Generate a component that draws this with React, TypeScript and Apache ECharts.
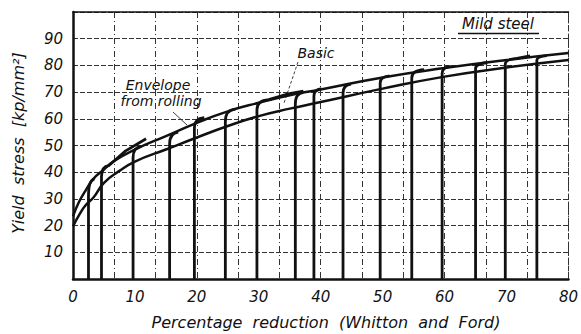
import React, { useEffect, useRef } from "react";
import * as echarts from "echarts";

// Tick labels
const xTickValues = [0, 10, 20, 30, 40, 50, 60, 70, 80];
const yTickValues = [10, 20, 30, 40, 50, 60, 70, 80, 90];

// Envelope from rolling (upper curve): [reduction %, yield stress]
const envelopeX = [0, 1, 2, 3.3, 5, 6.5, 10, 15, 20, 25, 30, 35, 40, 50, 60, 70, 80];
const envelopeY = [23.5, 29, 33, 37.5, 41, 44, 48.5, 53.5, 58.5, 62.8, 66, 68.8, 71, 75.5, 79, 82, 84.6];

// Basic curve (lower curve)
const basicX = [0, 1, 2, 3.3, 5, 7.5, 10, 15, 20, 25, 30, 35, 40, 50, 60, 70, 80];
const basicY = [19.7, 24, 27.5, 30.5, 36, 40.5, 44, 48.5, 53, 57.3, 61, 63.8, 66.3, 71.3, 75.8, 79.2, 82];

// Reloading lines after rolling: position, top of the straight part, end of knee
const reloadX = [2.5, 4.6, 9.7, 15.6, 19.6, 24.6, 29.7, 35.9, 38.9, 43.6, 49.6, 54.7, 59.6, 65, 69.8, 74.9];
const reloadTop = [31, 38.5, 45.5, 50.5, 56.5, 59, 63.4, 65.5, 68.4, 69.6, 73.4, 75.3, 77, 78.8, 80.5, 82];
const reloadJoinX = [3.5, 5.8, 11, 17, 21.2, 26.2, 31.6, 37.2, 40.1, 44.9, 51.1, 56.7, 61, 66.9, 71.7, 76.5];
const reloadJoinY = [37.5, 42.5, 49.7, 55, 60.4, 63.6, 67.2, 69.9, 71.3, 73, 76.1, 78.4, 79.6, 81, 82.6, 83.7];
// Short flow-curve tails running past the envelope (index -> points)
const tailIndex = [1, 6, 14];
const tailX = [[8.5, 11.8], [34.5, 37.2], [73.8]];
const tailY = [[48, 52.5], [69.2, 70.4], [83.6]];

const FONT = '"DejaVu Sans", "Liberation Sans", sans-serif';
const INK = "#111";

export default function App() {
  const ref = useRef<HTMLDivElement>(null);

  useEffect(() => {
    if (!ref.current) return;
    const chart = echarts.init(ref.current, undefined, { renderer: "svg" });

    const envelope = envelopeX.map((x, i) => [x, envelopeY[i]]);
    const basic = basicX.map((x, i) => [x, basicY[i]]);
    const reloadData = reloadX.map((x, i) => [x, reloadTop[i], reloadJoinX[i], reloadJoinY[i]]);

    const textStyle = (size: number) => ({
      font: `italic ${size}px ${FONT}`,
      fill: INK,
      align: "center",
      verticalAlign: "middle",
      textAlign: "center",
      textVerticalAlign: "middle",
    });

    const option: any = {
      animation: false,
      backgroundColor: "#fff",
      grid: { left: 73, right: 9, top: 12, bottom: 55, containLabel: false },
      xAxis: [
        {
          type: "value",
          min: 0,
          max: 80,
          interval: 10,
          axisLine: { show: true, lineStyle: { color: INK, width: 2.5 } },
          axisTick: { show: false },
          splitLine: { show: false },
          axisLabel: {
            color: INK,
            fontFamily: FONT,
            fontStyle: "italic",
            fontSize: 15,
            margin: 10,
            formatter: (v: number) => (xTickValues.includes(v) ? String(v) : ""),
          },
        },
        {
          type: "value",
          position: "top",
          min: 0,
          max: 80,
          interval: 80 / 12,
          axisLine: { show: true, onZero: false, lineStyle: { color: INK, width: 1.5 } },
          axisTick: { show: false },
          axisLabel: { show: false },
          splitLine: { show: true, lineStyle: { color: "#333", width: 1, type: [6, 3, 1, 3] } },
        },
      ],
      yAxis: [
        {
          type: "value",
          min: 0,
          max: 100,
          interval: 10,
          axisLine: { show: true, lineStyle: { color: INK, width: 2.5 } },
          axisTick: { show: false },
          axisLabel: {
            color: INK,
            fontFamily: FONT,
            fontStyle: "italic",
            fontSize: 15,
            margin: 10,
            formatter: (v: number) => (yTickValues.includes(v) ? String(v) : ""),
          },
          splitLine: { show: true, lineStyle: { color: "#333", width: 1, type: [5, 2] } },
        },
        {
          type: "value",
          position: "right",
          min: 0,
          max: 100,
          axisLine: { show: true, onZero: false, lineStyle: { color: "#333", width: 1, type: [5, 3] } },
          axisTick: { show: false },
          axisLabel: { show: false },
          splitLine: { show: false },
        },
      ],
      series: [
        {
          name: "Envelope from rolling",
          type: "line",
          xAxisIndex: 0,
          yAxisIndex: 0,
          data: envelope,
          smooth: true,
          showSymbol: false,
          lineStyle: { color: INK, width: 2.5 },
        },
        {
          name: "Basic",
          type: "line",
          xAxisIndex: 0,
          yAxisIndex: 0,
          data: basic,
          smooth: true,
          showSymbol: false,
          lineStyle: { color: INK, width: 2.5 },
        },
        {
          name: "Reloading",
          type: "custom",
          xAxisIndex: 0,
          yAxisIndex: 0,
          data: reloadData,
          encode: { x: [0, 2], y: [1, 3] },
          renderItem: (params: any, api: any) => {
            const i = params.dataIndex;
            const x = api.value(0);
            const yTop = api.value(1);
            const xJ = api.value(2);
            const yJ = api.value(3);
            const p0 = api.coord([x, 0]);
            const p1 = api.coord([x, yTop]);
            const c = api.coord([x, yJ - 0.3]);
            const p2 = api.coord([xJ, yJ]);
            let d = `M${p0[0]} ${p0[1]} L${p1[0]} ${p1[1]} Q${c[0]} ${c[1]} ${p2[0]} ${p2[1]}`;
            const t = tailIndex.indexOf(i);
            if (t >= 0) {
              tailX[t].forEach((tx, k) => {
                const p = api.coord([tx, tailY[t][k]]);
                d += ` L${p[0]} ${p[1]}`;
              });
            }
            return {
              type: "path",
              shape: { pathData: d },
              style: { stroke: INK, lineWidth: 2.8, fill: "none", lineJoin: "round" },
            };
          },
        },
      ],
      graphic: [
        {
          type: "text",
          x: 18,
          y: 143,
          rotation: Math.PI / 2,
          style: { text: "Yield  stress  [kp/mm²]", ...textStyle(16) },
        },
        {
          type: "text",
          x: 326,
          y: 322,
          style: { text: "Percentage  reduction  (Whitton  and  Ford)", ...textStyle(16) },
        },
        { type: "text", x: 158, y: 85, style: { text: "Envelope", ...textStyle(14) } },
        { type: "text", x: 161, y: 101, style: { text: "from rolling", ...textStyle(14) } },
        {
          type: "line",
          shape: { x1: 173, y1: 112, x2: 187, y2: 125 },
          style: { stroke: INK, lineWidth: 0.8 },
        },
        { type: "text", x: 316, y: 53, style: { text: "Basic", ...textStyle(14) } },
        {
          type: "line",
          shape: { x1: 298, y1: 62, x2: 284, y2: 103 },
          style: { stroke: INK, lineWidth: 0.8, lineDash: [3, 2] },
        },
        { type: "text", x: 498, y: 24, style: { text: "Mild steel", ...textStyle(15) } },
        {
          type: "line",
          shape: { x1: 458, y1: 33.5, x2: 539, y2: 33.5 },
          style: { stroke: INK, lineWidth: 1.5 },
        },
      ],
    };

    chart.setOption(option);
    return () => chart.dispose();
  }, []);

  return (
    <div
      ref={ref}
      style={{ position: "absolute", left: 0, top: 0, width: 581, height: 334, background: "#fff" }}
    />
  );
}
